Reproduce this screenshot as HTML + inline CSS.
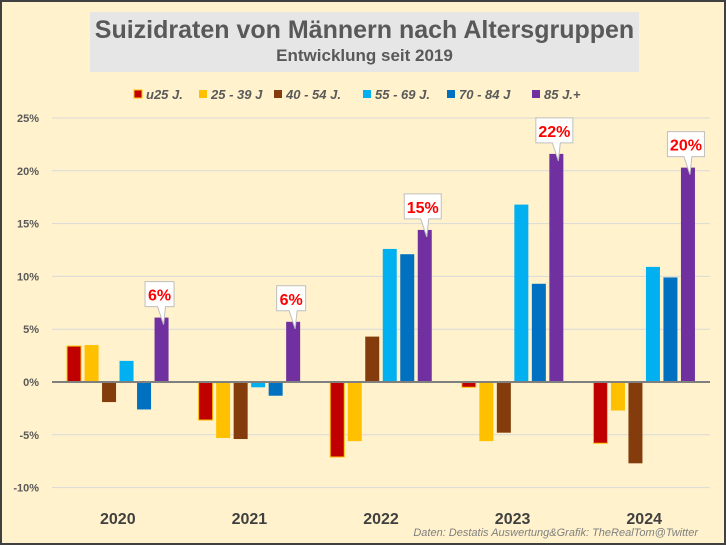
<!DOCTYPE html>
<html><head><meta charset="utf-8"><style>
body{margin:0;background:#fff;}
#wrap{position:relative;width:722px;height:541px;border:2px solid #404040;background:#fff2cc;overflow:hidden;font-family:"Liberation Sans",sans-serif;}
#titlebox{position:absolute;left:88px;top:10px;width:549px;height:60px;background:#e7e6e6;text-align:center;color:#595959;font-weight:bold;}
#t1{font-size:25px;margin-top:4px;}
#t2{font-size:17px;margin-top:1px;}
#source{position:absolute;right:26px;top:525px;font-size:11px;font-style:italic;color:#7f7f7f;}
</style></head><body>
<div id="wrap">
<div id="titlebox">
<div id="t1">Suizidraten von Männern nach Altersgruppen</div>
<div id="t2">Entwicklung seit 2019</div>
</div>
<svg id="svg" width="722" height="541" style="position:absolute;left:0;top:0"></svg>
<div id="source">Daten: Destatis Auswertung&amp;Grafik: TheRealTom@Twitter</div>
</div>
<script>
const years=["2020","2021","2022","2023","2024"];
const seriesNames=["u25 J.","25 - 39 J","40 - 54 J.","55 - 69 J.","70 - 84 J","85 J.+"];
const u25=[3.4,-3.6,-7.1,-0.5,-5.8];
const a25=[3.5,-5.3,-5.6,-5.6,-2.7];
const a40=[-1.9,-5.4,4.3,-4.8,-7.7];
const a55=[2.0,-0.5,12.6,16.8,10.9];
const a70=[-2.6,-1.3,12.1,9.3,9.9];
const a85=[6.1,5.7,14.4,21.6,20.3];
const calloutLabels=["6%","6%","15%","22%","20%"];
const yTicks=[-10,-5,0,5,10,15,20,25];
const series=[u25,a25,a40,a55,a70,a85];
const colors=["#c00000","#ffc000","#843c0c","#00b0f0","#0070c0","#7030a0"];
const NS="http://www.w3.org/2000/svg";
const svg=document.getElementById('svg');
const X0=50,X1=708,Y0=380,PX=264/25;
function y(v){return Y0-v*PX;}
const gw=(X1-X0)/years.length;
function gx(i){return X0+gw*(i+0.5);}
function mk(t,a){const e=document.createElementNS(NS,t);for(const k in a)e.setAttribute(k,a[k]);svg.appendChild(e);return e;}
yTicks.forEach(t=>{
 if(t!==0){const g=mk('line',{x1:X0,x2:X1,y1:y(t),y2:y(t),stroke:'#d9d9d9','stroke-width':1});
 
 }
 const l=mk('text',{x:37,y:y(t)+4,'text-anchor':'end','font-size':11,'font-weight':'bold',fill:'#595959'});
 l.textContent=t+'%';
 
 
});
const bw=14,step=17.5;
series.forEach((s,si)=>{s.forEach((v,i)=>{
 const cx=gx(i)+(si-2.5)*step;
 const top=Math.min(y(v),y(0)),h=Math.abs(y(v)-y(0));
 const r=mk('rect',{x:cx-bw/2,y:top,width:bw,height:h,fill:colors[si]});
 if(si===0){r.setAttribute('stroke','#ffc000');r.setAttribute('stroke-width',1);}
 
 
});});
const ax=mk('line',{x1:X0,x2:X1,y1:Y0,y2:Y0,stroke:'#7f7f7f','stroke-width':2});


years.forEach((yr,i)=>{
 const t=mk('text',{x:gx(i),y:522,'text-anchor':'middle','font-size':16,'font-weight':'bold',fill:'#404040'});
 t.textContent=yr;
 
 
});
a85.forEach((v,i)=>{
 const cx=gx(i)+2.5*step, ty=y(v);
 const w=calloutLabels[i].length>2?37:29;
 const bx=cx-w/2-2, by=ty-36;
 const g=mk('g',{});
 
 
 const p=document.createElementNS(NS,'path');
 p.setAttribute('d',`M${bx},${by} h${w} v25 h${-w/2+6} l-2,18 l-6,-18 h${-w/2+2} z`);
 p.setAttribute('fill','#fff');p.setAttribute('stroke','#bfbfbf');g.appendChild(p);
 const t=document.createElementNS(NS,'text');
 t.setAttribute('x',bx+w/2);t.setAttribute('y',by+19);t.setAttribute('text-anchor','middle');
 t.setAttribute('font-size',16);t.setAttribute('font-weight','bold');t.setAttribute('fill','#ff0000');
 t.textContent=calloutLabels[i];g.appendChild(t);
});
const lx=[132,197,272,361,445,530];
seriesNames.forEach((n,i)=>{
 const g=mk('g',{});
 
 
 const r=document.createElementNS(NS,'rect');
 r.setAttribute('x',lx[i]);r.setAttribute('y',88);r.setAttribute('width',8);r.setAttribute('height',8);r.setAttribute('fill',colors[i]);
 if(i===0){r.setAttribute('stroke','#ffc000');}
 g.appendChild(r);
 const t=document.createElementNS(NS,'text');
 t.setAttribute('x',lx[i]+12);t.setAttribute('y',97);t.setAttribute('font-size',13);t.setAttribute('font-weight','bold');t.setAttribute('font-style','italic');t.setAttribute('fill','#595959');
 t.textContent=n;g.appendChild(t);
});
</script>
</body></html>
